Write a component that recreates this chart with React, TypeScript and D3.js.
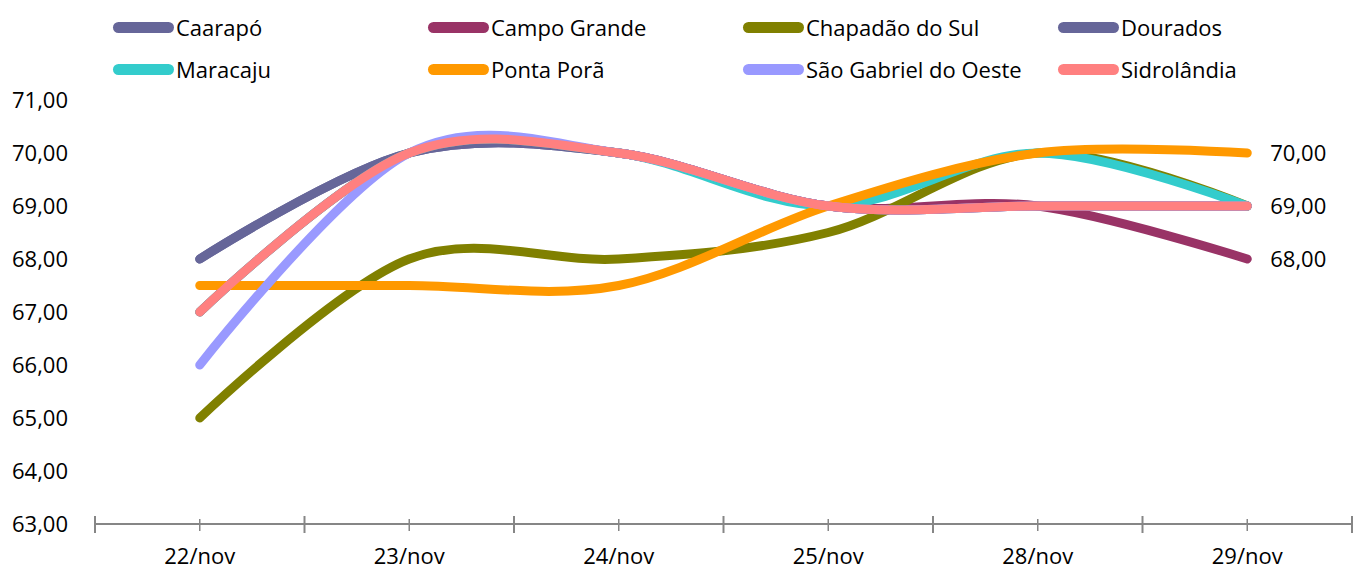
import React from "react";
import * as d3 from "d3";

const categories = ["22/nov", "23/nov", "24/nov", "25/nov", "28/nov", "29/nov"];

const seriesNames = [
  "Caarapó",
  "Campo Grande",
  "Chapadão do Sul",
  "Dourados",
  "Maracaju",
  "Ponta Porã",
  "São Gabriel do Oeste",
  "Sidrolândia",
];

const seriesColors = [
  "#666699",
  "#993366",
  "#808000",
  "#666699",
  "#33CCCC",
  "#FF9900",
  "#9999FF",
  "#FF8080",
];

const caarapo = [68, 70, 70, 69, 69, 69];
const campoGrande = [67, 70, 70, 69, 69, 68];
const chapadaoDoSul = [65, 68, 68, 68.5, 70, 69];
const dourados = [68, 70, 70, 69, 69, 69];
const maracaju = [67, 70, 70, 69, 70, 69];
const pontaPora = [67.5, 67.5, 67.5, 69, 70, 70];
const saoGabriel = [66, 70, 70, 69, 69, 69];
const sidrolandia = [67, 70, 70, 69, 69, 69];

const seriesValues = [
  caarapo,
  campoGrande,
  chapadaoDoSul,
  dourados,
  maracaju,
  pontaPora,
  saoGabriel,
  sidrolandia,
];

// series whose last value is printed at the right end
const labelledSeries = ["Campo Grande", "Ponta Porã", "Sidrolândia"];

const yTicks = [63, 64, 65, 66, 67, 68, 69, 70, 71];

const W = 1365;
const H = 569;
const FONT = "'Open Sans', Lato, sans-serif";
const FS = 22;
const fmt = (v: number) => v.toFixed(2).replace(".", ",");

export default function App() {
  const x = d3.scaleBand<string>().domain(categories).range([95, 1352]).padding(0);
  const cx = (c: string) => (x(c) as number) + x.bandwidth() / 2;
  const y = d3.scaleLinear().domain([63, 71]).range([524, 100]);

  const line = d3
    .line<number>()
    .x((_, i) => cx(categories[i]))
    .y((d) => y(d))
    .curve(d3.curveCatmullRom.alpha(0));

  const bandEdges = categories.map((c) => x(c) as number).concat([x.range()[1]]);

  const legendCols = [113, 428, 743, 1058];
  const legendRows = [27.5, 69.5];

  return (
    <svg
      width={W}
      height={H}
      style={{ position: "absolute", left: 0, top: 0, background: "#fff" }}
      fontFamily={FONT}
    >
      {/* y tick labels */}
      {yTicks.map((t) => (
        <text key={t} x={68} y={y(t) + 8} textAnchor="end" fontSize={FS} fill="#000">
          {fmt(t)}
        </text>
      ))}

      {/* x axis */}
      <line x1={95} x2={1352} y1={y(63)} y2={y(63)} stroke="#868686" strokeWidth={2} />
      {bandEdges.map((e, i) => (
        <line key={"M" + i} x1={e} x2={e} y1={y(63) - 8} y2={y(63) + 9} stroke="#868686" strokeWidth={2} />
      ))}
      {categories.map((c) => (
        <line key={"m" + c} x1={cx(c)} x2={cx(c)} y1={y(63) - 5} y2={y(63) + 7} stroke="#868686" strokeWidth={1.5} />
      ))}
      {categories.map((c) => (
        <text key={c} x={cx(c)} y={564} textAnchor="middle" fontSize={FS} fill="#000">
          {c}
        </text>
      ))}

      {/* series lines */}
      {seriesValues.map((vals, i) => (
        <path
          key={seriesNames[i]}
          d={line(vals) as string}
          fill="none"
          stroke={seriesColors[i]}
          strokeWidth={9}
          strokeLinecap="round"
          strokeLinejoin="round"
        />
      ))}

      {/* end-of-line value labels */}
      {seriesNames.map((n, i) =>
        labelledSeries.includes(n) ? (
          <text
            key={"lbl" + n}
            x={cx(categories[categories.length - 1]) + 23}
            y={y(seriesValues[i][seriesValues[i].length - 1]) + 8}
            fontSize={FS}
            fill="#000"
          >
            {fmt(seriesValues[i][seriesValues[i].length - 1])}
          </text>
        ) : null
      )}

      {/* legend */}
      {seriesNames.map((n, i) => {
        const lx = legendCols[i % 4];
        const ly = legendRows[Math.floor(i / 4)];
        return (
          <g key={"leg" + n}>
            <line
              x1={lx + 5.5}
              x2={lx + 55.5}
              y1={ly}
              y2={ly}
              stroke={seriesColors[i]}
              strokeWidth={11}
              strokeLinecap="round"
            />
            <text x={lx + 63} y={ly + 8} fontSize={FS} fill="#000">
              {n}
            </text>
          </g>
        );
      })}
    </svg>
  );
}
